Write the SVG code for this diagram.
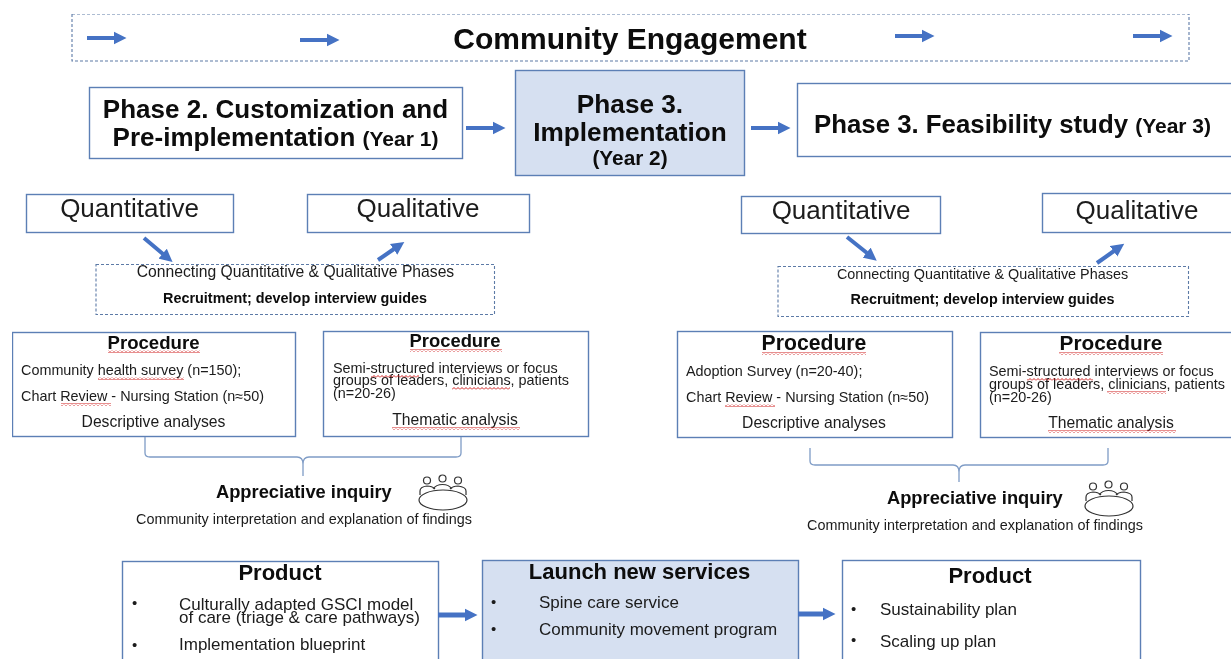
<svg xmlns="http://www.w3.org/2000/svg" width="1231" height="659" viewBox="0 0 1231 659">
<style>
text{font-family:"Liberation Sans",Arial,sans-serif;fill:#1a1a1a}
.b{font-weight:700;fill:#0a0a0a}
.m{text-anchor:middle}
.box{fill:#fff;stroke:#5b7fb5;stroke-width:1.4}
.fill{fill:#d6e0f1;stroke:#5b7fb5;stroke-width:1.4}
.dash{fill:#fff;stroke:#5c7aa6;stroke-width:1.1;stroke-dasharray:3 2}
.arr{stroke:#4472c4;stroke-width:4;fill:none;marker-end:url(#ah)}
.arr5{stroke-width:5}
.brace{stroke:#7f9cc6;stroke-width:1.3;fill:none}
.ic{stroke:#333;stroke-width:1.2;fill:none}
.f14{font-size:14.4px}
.f15{font-size:15.7px}
.f17{font-size:17px}
.f26{font-size:26px}
.bu{font-size:15px}
.sq{fill:url(#sq)}
</style>
<defs>
<filter id="soft" x="0" y="0" width="100%" height="100%"><feGaussianBlur stdDeviation="0.35"/></filter>
<marker id="ah" markerUnits="userSpaceOnUse" markerWidth="14" markerHeight="14" refX="0.500" refY="7" orient="auto"><path d="M0 .5L13 7L0 13.500Z" fill="#4472c4"/></marker>
<pattern id="sq" width="4" height="3" patternUnits="userSpaceOnUse"><path d="M0 2.500L2 .5L4 2.500" fill="none" stroke="#d02020" stroke-width="1"/></pattern>
<g id="people" class="ic">
<path d="M1 21V17C1 14 4 12.500 8 12C11 12 14 13 16 15M14 15C16 12 19 10.500 23.500 10.500C28 10.500 31 12 33 15M31 15C33 13 36 12 39 12C43 12.500 47 14 47 17V21"/>
<ellipse cx="24" cy="26" rx="24" ry="10" fill="#fff"/>
<circle cx="8" cy="6.500" r="3.500"/><circle cx="23.500" cy="4.500" r="3.500"/><circle cx="39" cy="6.500" r="3.500"/>
</g>
</defs>
<rect width="1231" height="659" fill="#fff"/>
<g filter="url(#soft)">

<g id="engagement"><rect class="dash" x="72" y="14" width="1117" height="47"/><text class="b m" x="630" y="49" font-size="30">Community Engagement</text></g>
<g id="phase2"><rect class="box" x="89.500" y="87.500" width="373" height="71"/><text class="b m" x="275.500" y="117.500" font-size="26">Phase 2. Customization and</text><text class="b m" x="275.500" y="146" font-size="26">Pre-implementation <tspan font-size="21">(Year 1)</tspan></text></g>
<g id="phase3impl"><rect class="fill" x="515.500" y="70.500" width="229" height="105"/><text class="b m" x="630" y="113" font-size="26.200">Phase 3.</text><text class="b m" x="630" y="141" font-size="26.200">Implementation</text><text class="b m" x="630" y="165" font-size="20.800">(Year 2)</text></g>
<g id="phase3feas"><rect class="box" x="797.500" y="83.500" width="440" height="73"/><text class="b" x="814" y="132.500" font-size="25.800">Phase 3. Feasibility study <tspan font-size="21">(Year 3)</tspan></text></g>

<g id="quant1"><rect class="box" x="26.500" y="194.500" width="207" height="38"/><text class="m f26" x="129.500" y="217">Quantitative</text></g>
<g id="qual1"><rect class="box" x="307.500" y="194.500" width="222" height="38"/><text class="m f26" x="418" y="217">Qualitative</text></g>
<g id="connect1"><rect class="dash" x="96" y="264.500" width="398.500" height="50"/><text class="m" x="295.500" y="277" font-size="15.700">Connecting Quantitative &amp; Qualitative Phases</text><text class="b m" x="295" y="303" font-size="14.400">Recruitment; develop interview guides</text></g>

<g id="quant2"><rect class="box" x="741.500" y="196.500" width="199" height="37"/><text class="m f26" x="841" y="219">Quantitative</text></g>
<g id="qual2"><rect class="box" x="1042.500" y="193.500" width="195" height="39"/><text class="m f26" x="1137" y="219">Qualitative</text></g>
<g id="connect2"><rect class="dash" x="778" y="266.500" width="410.500" height="50"/><text class="m" x="982.500" y="279" font-size="14.400">Connecting Quantitative &amp; Qualitative Phases</text><text class="b m" x="982.500" y="304" font-size="14.400">Recruitment; develop interview guides</text></g>

<g id="proc1"><rect class="box" x="12.500" y="332.500" width="283" height="104"/>
<text class="b m" x="153.500" y="349" font-size="18.600">Procedure</text><rect class="sq" x="108" y="350" width="92" height="3"/>
<text class="f14" x="21" y="375">Community health survey (n=150);</text><rect class="sq" x="98" y="377" width="86" height="3"/>
<text class="f14" x="21" y="400.500">Chart Review - Nursing Station (n≈50)</text><rect class="sq" x="61" y="403" width="50" height="3"/>
<text class="f15 m" x="153.500" y="426.500">Descriptive analyses</text></g>

<g id="proc2"><rect class="box" x="323.500" y="331.500" width="265" height="105"/>
<text class="b m" x="455" y="347" font-size="18.400">Procedure</text><rect class="sq" x="410" y="349" width="92" height="3"/>
<text class="f14" x="333" y="373">Semi-structured interviews or focus</text>
<text class="f14" x="333" y="385">groups of leaders, clinicians, patients</text>
<text class="f14" x="333" y="398">(n=20-26)</text><rect class="sq" x="371" y="375" width="48" height="3"/><rect class="sq" x="452" y="387" width="58" height="3"/>
<text class="f15 m" x="455" y="425">Thematic analysis</text><rect class="sq" x="392" y="427" width="128" height="3"/></g>

<g id="proc3"><rect class="box" x="677.500" y="331.500" width="275" height="106"/>
<text class="b m" x="814" y="350" font-size="21.200">Procedure</text><rect class="sq" x="762" y="352" width="104" height="3"/>
<text class="f14" x="686" y="376">Adoption Survey (n=20-40);</text>
<text class="f14" x="686" y="401.500">Chart Review - Nursing Station (n≈50)</text><rect class="sq" x="725" y="404" width="50" height="3"/>
<text class="f15 m" x="814" y="427.500">Descriptive analyses</text></g>

<g id="proc4"><rect class="box" x="980.500" y="332.500" width="260" height="105"/>
<text class="b m" x="1111" y="350" font-size="20.800">Procedure</text><rect class="sq" x="1059" y="352" width="104" height="3"/>
<text class="f14" x="989" y="376">Semi-structured interviews or focus</text>
<text class="f14" x="989" y="389">groups of leaders, clinicians, patients</text>
<text class="f14" x="989" y="402">(n=20-26)</text><rect class="sq" x="1027" y="378" width="66" height="3"/><rect class="sq" x="1107" y="391" width="59" height="3"/>
<text class="f15 m" x="1111" y="428">Thematic analysis</text><rect class="sq" x="1048" y="430" width="128" height="3"/></g>

<g id="inquiry1"><text class="b" x="216" y="498" font-size="18.300">Appreciative inquiry</text><use href="#people" x="419" y="474"/><text class="m" x="304" y="524" font-size="14.400">Community interpretation and explanation of findings</text></g>
<g id="inquiry2"><text class="b" x="887" y="504" font-size="18.300">Appreciative inquiry</text><use href="#people" x="1085" y="480"/><text class="m" x="975" y="530" font-size="14.400">Community interpretation and explanation of findings</text></g>

<g id="product1"><rect class="box" x="122.500" y="561.500" width="316" height="110"/>
<text class="b m" x="280" y="580" font-size="22">Product</text>
<text class="bu" x="132" y="608">•</text><text class="f17" x="179" y="610">Culturally adapted GSCI model</text><text class="f17" x="179" y="623">of care (triage &amp; care pathways)</text>
<text class="bu" x="132" y="650">•</text><text class="f17" x="179" y="650">Implementation blueprint</text></g>
<g id="launch"><rect class="fill" x="482.500" y="560.500" width="316" height="110"/>
<text class="b m" x="639.500" y="579" font-size="22">Launch new services</text>
<text class="bu" x="491" y="607">•</text><text class="f17" x="539" y="608">Spine care service</text>
<text class="bu" x="491" y="634">•</text><text class="f17" x="539" y="635">Community movement program</text></g>
<g id="product2"><rect class="box" x="842.500" y="560.500" width="298" height="110"/>
<text class="b m" x="990" y="583" font-size="22">Product</text>
<text class="bu" x="851" y="614">•</text><text class="f17" x="880" y="615">Sustainability plan</text>
<text class="bu" x="851" y="645">•</text><text class="f17" x="880" y="647">Scaling up plan</text></g>

<g id="connectors">
<path class="arr" d="M87 38H114"/><path class="arr" d="M300 40H327"/><path class="arr" d="M895 36H922"/><path class="arr" d="M1133 36H1160"/>
<path class="arr" d="M466 128H493"/><path class="arr" d="M751 128H778"/>
<path class="arr" d="M144 238L163 254"/><path class="arr" d="M378 260L394 249"/>
<path class="arr" d="M847 237L867 253"/><path class="arr" d="M1097 263L1114 251"/>
<path class="arr arr5" d="M438 615H465"/><path class="arr arr5" d="M798 614H823"/>
<path class="brace" d="M145 437V453Q145 457 150 457H297Q303 457 303 464Q303 457 309 457H456Q461 457 461 453V437M303 464V476"/>
<path class="brace" d="M810 448V461Q810 465 815 465H953Q959 465 959 472Q959 465 965 465H1103Q1108 465 1108 461V448M959 472V482"/>
</g>
</g>
</svg>
